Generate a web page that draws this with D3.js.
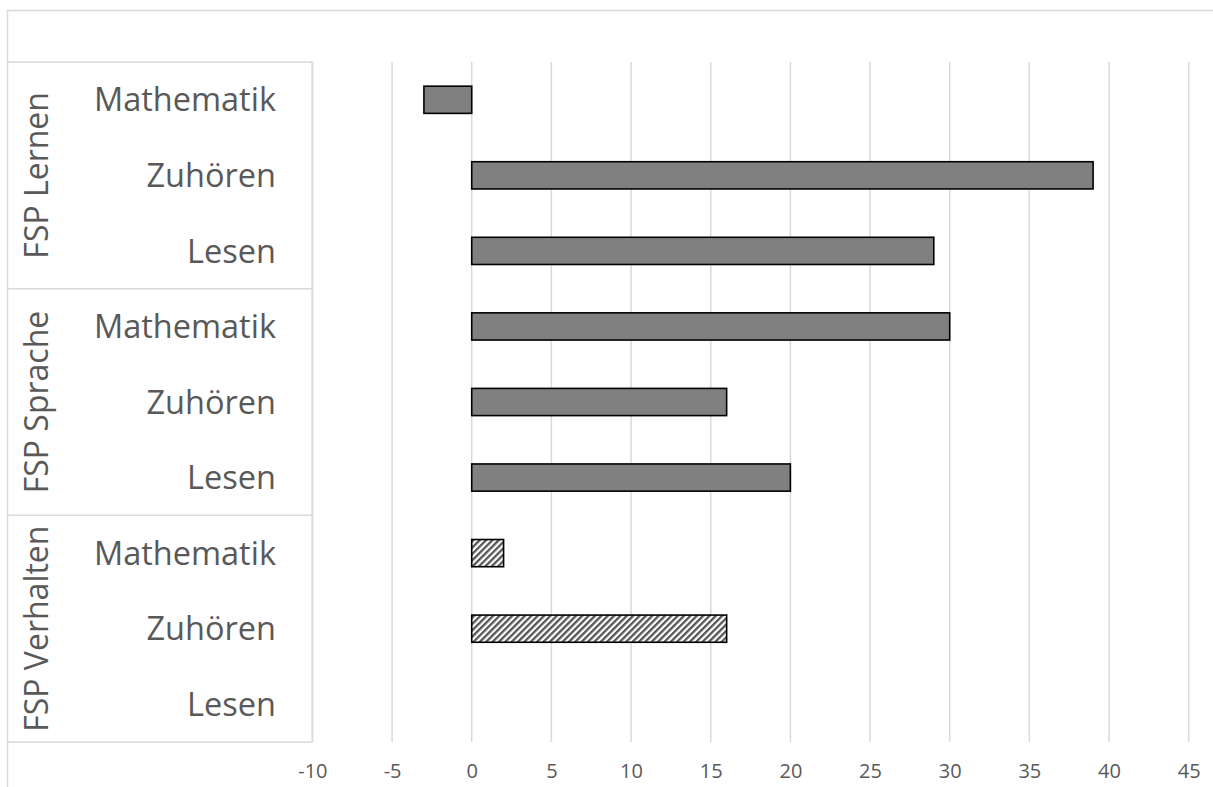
<!DOCTYPE html>
<html>
<head>
<meta charset="utf-8">
<script src="https://cdn.jsdelivr.net/npm/d3@7"></script>
<style>
  body { margin: 0; background: #fff; }
  text { font-family: "Open Sans", sans-serif; fill: #595959; }
</style>
</head>
<body>
<svg width="1213" height="787"></svg>
<script>
// grouped horizontal bar chart (Excel style)

var groups = ["FSP Lernen", "FSP Sprache", "FSP Verhalten"];
var subjects = ["Mathematik", "Zuhören", "Lesen"];
var lernenValues = [-3, 39, 29];
var spracheValues = [30, 16, 20];
var verhaltenValues = [2, 16, null];
var hatchedGroups = ["FSP Verhalten"];
var xTicks = [-10, -5, 0, 5, 10, 15, 20, 25, 30, 35, 40, 45];

var seriesByGroup = [lernenValues, spracheValues, verhaltenValues];

// flatten into rows
var rows = [];
groups.forEach(function(g, gi) {
    subjects.forEach(function(s, si) {
        rows.push({ group: g, subject: s, key: g + "|" + s, value: seriesByGroup[gi][si] });
    });
});

var svg = d3.select("svg"),
    plotLeft = 312.4,
    plotRight = 1188.7,
    plotTop = 62,
    plotBottom = 742;

// hatch pattern for the last group
var defs = svg.append("defs");
var pat = defs.append("pattern")
    .attr("id", "hatch")
    .attr("patternUnits", "userSpaceOnUse")
    .attr("width", 4.5)
    .attr("height", 4.5)
    .attr("patternTransform", "rotate(45)");
pat.append("rect").attr("width", 4.5).attr("height", 4.5).attr("fill", "#fff");
pat.append("rect").attr("width", 2.3).attr("height", 4.5).attr("fill", "#555");

// outer chart border
svg.append("rect")
    .attr("x", 7.5).attr("y", 10.5)
    .attr("width", 1220).attr("height", 800)
    .attr("fill", "none")
    .attr("stroke", "#d9d9d9")
    .attr("stroke-width", 1.5);

var xScale = d3.scaleLinear()
    .domain([-10, 45])
    .range([plotLeft, plotRight]);

var yScale = d3.scaleBand()
    .domain(rows.map(function(d) { return d.key; }))
    .range([plotTop, plotBottom])
    .paddingInner(0.64)
    .paddingOuter(0.32);

// vertical grid lines
svg.append("g")
    .selectAll("line")
    .data(xTicks)
    .enter().append("line")
    .attr("x1", function(d) { return xScale(d); })
    .attr("x2", function(d) { return xScale(d); })
    .attr("y1", plotTop)
    .attr("y2", plotBottom)
    .attr("stroke", "#d9d9d9")
    .attr("stroke-width", 1.5);

// x axis labels
var xAxis = d3.axisBottom(xScale)
    .tickValues(xTicks)
    .tickSize(0)
    .tickFormat(function(d) { return String(d); });
var xg = svg.append("g")
    .attr("transform", "translate(0," + plotBottom + ")")
    .call(xAxis);
xg.select(".domain").remove();
xg.selectAll("text")
    .attr("y", 22)
    .attr("dy", "0.71em")
    .attr("fill", "#595959")
    .style("font-family", "'Liberation Sans Narrow', 'Open Sans', sans-serif")
    .style("font-size", "20px");

// group separators on the category axis
var step = (plotBottom - plotTop) / rows.length;
var groupBounds = groups.map(function(g, gi) {
    return { group: g, y0: plotTop + gi * 3 * step, y1: plotTop + (gi + 1) * 3 * step };
});

var catAxis = svg.append("g");
catAxis.selectAll("line.sep")
    .data([plotTop].concat(groupBounds.map(function(d) { return d.y1; })))
    .enter().append("line")
    .attr("class", "sep")
    .attr("x1", 7).attr("x2", plotLeft)
    .attr("y1", function(d) { return d; })
    .attr("y2", function(d) { return d; })
    .attr("stroke", "#d9d9d9")
    .attr("stroke-width", 1.5);

catAxis.append("line")
    .attr("x1", plotLeft).attr("x2", plotLeft)
    .attr("y1", plotTop).attr("y2", plotBottom)
    .attr("stroke", "#d9d9d9")
    .attr("stroke-width", 1.5);

// subject labels
catAxis.selectAll("text.sub")
    .data(rows)
    .enter().append("text")
    .attr("class", "sub")
    .attr("x", 276)
    .attr("y", function(d) { return yScale(d.key) + yScale.bandwidth() / 2; })
    .attr("dy", "0.36em")
    .attr("text-anchor", "end")
    .style("font-size", "32.5px")
    .text(function(d) { return d.subject; });

// group labels (rotated)
catAxis.selectAll("text.grp")
    .data(groupBounds)
    .enter().append("text")
    .attr("class", "grp")
    .attr("transform", function(d) {
        return "translate(36," + (d.y0 + d.y1) / 2 + ") rotate(-90)";
    })
    .attr("dy", "0.36em")
    .attr("text-anchor", "middle")
    .style("font-size", "32px")
    .text(function(d) { return d.group; });

// bars
svg.append("g")
    .selectAll("rect")
    .data(rows.filter(function(d) { return d.value !== null; }))
    .enter().append("rect")
    .attr("x", function(d) { return xScale(Math.min(0, d.value)); })
    .attr("width", function(d) { return Math.abs(xScale(d.value) - xScale(0)); })
    .attr("y", function(d) { return yScale(d.key); })
    .attr("height", yScale.bandwidth())
    .attr("fill", function(d) {
        return hatchedGroups.indexOf(d.group) >= 0 ? "url(#hatch)" : "#808080";
    })
    .attr("stroke", "#000")
    .attr("stroke-width", 1.6);
</script>
</body>
</html>
